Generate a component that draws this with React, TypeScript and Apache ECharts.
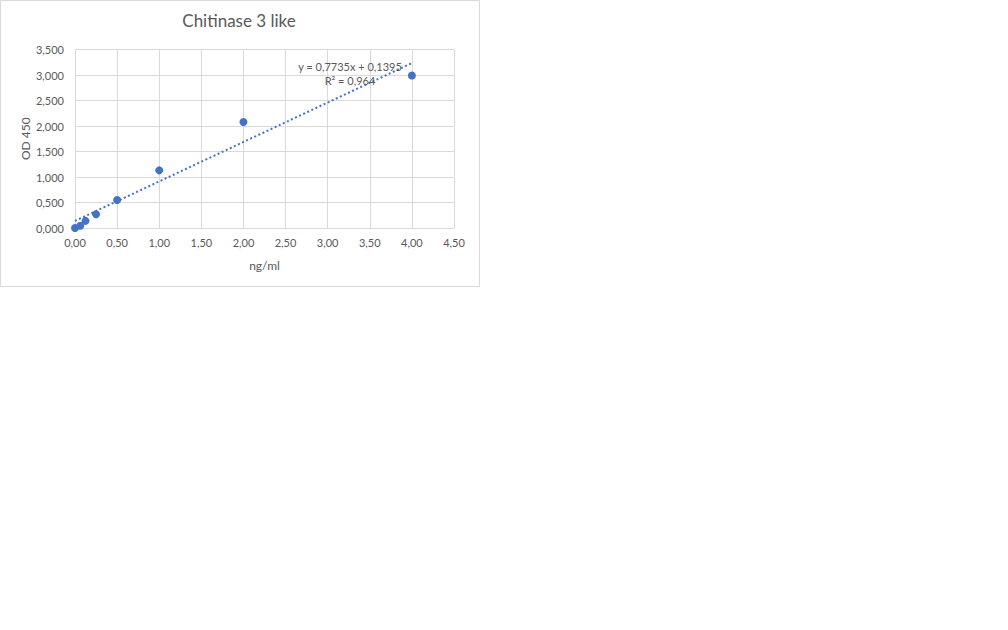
import React, { useEffect, useRef } from "react";
import * as echarts from "echarts";

const concentrations = [0, 0.0625, 0.125, 0.25, 0.5, 1, 2, 4];
const odValues = [0.0, 0.045, 0.14, 0.27, 0.55, 1.13, 2.08, 2.99];
const trendSlope = 0.7735;
const trendIntercept = 0.1395;
const trendRange = [0, 4];
const equationLines = ["y = 0,7735x + 0,1395", "R² = 0,964"];
const titleText = "Chitinase 3 like";
const xAxisName = "ng/ml";
const yAxisName = "OD 450";

const FONT = "Lato, 'Open Sans', sans-serif";
const TEXT = "#595959";
const GRID = "#d9d9d9";
const BLUE = "#4472c4";

export default function App() {
  const ref = useRef<HTMLDivElement>(null);
  useEffect(() => {
    if (!ref.current) return;
    const chart = echarts.init(ref.current, null, { renderer: "svg" });
    const trendData = trendRange.map((x) => [x, trendSlope * x + trendIntercept]);
    chart.setOption({
      animation: false,
      backgroundColor: "#ffffff",
      textStyle: { fontFamily: FONT },
      title: {
        text: titleText,
        left: 239,
        top: 12,
        padding: 0,
        textAlign: "center",
        textStyle: { fontFamily: FONT, fontSize: 17, fontWeight: "normal", color: TEXT },
      },
      grid: { left: 75, top: 49.5, right: 1008 - 454, bottom: 630 - 228, containLabel: false },
      xAxis: {
        type: "value",
        min: 0,
        max: 4.5,
        interval: 0.5,
        name: xAxisName,
        nameLocation: "middle",
        nameGap: 31,
        nameTextStyle: { fontFamily: FONT, fontSize: 12, color: TEXT, verticalAlign: "top" },
        axisLine: { show: true, lineStyle: { color: GRID } },
        axisTick: { show: false },
        axisLabel: {
          color: TEXT,
          fontFamily: FONT,
          fontSize: 11,
          margin: 9,
          formatter: (v: number) => v.toFixed(2).replace(".", ","),
        },
        splitLine: { show: true, lineStyle: { color: GRID, width: 1 } },
      },
      yAxis: {
        type: "value",
        min: 0,
        max: 3.5,
        interval: 0.5,
        name: yAxisName,
        nameLocation: "middle",
        nameGap: 44,
        nameRotate: 90,
        nameTextStyle: { fontFamily: FONT, fontSize: 12, color: TEXT },
        axisLine: { show: false },
        axisTick: { show: false },
        axisLabel: {
          color: TEXT,
          fontFamily: FONT,
          fontSize: 11,
          margin: 11,
          formatter: (v: number) => v.toFixed(3).replace(".", ","),
        },
        splitLine: { show: true, lineStyle: { color: GRID, width: 1 } },
      },
      series: [
        {
          type: "line",
          data: trendData,
          showSymbol: false,
          symbol: "none",
          lineStyle: { color: BLUE, width: 2, type: [2, 2.5] },
          silent: true,
          z: 1,
        },
        {
          type: "scatter",
          data: concentrations.map((x, i) => [x, odValues[i]]),
          symbol: "circle",
          symbolSize: 8,
          itemStyle: { color: BLUE, opacity: 1 },
          z: 2,
        },
      ],
      graphic: [
        {
          type: "rect",
          shape: { x: 0.5, y: 0.5, width: 479, height: 286 },
          style: { fill: "none", stroke: GRID, lineWidth: 1 },
          silent: true,
          z: -1,
        },
        {
          type: "text",
          x: 350,
          y: 66.5,
          style: {
            text: equationLines[0],
            fill: TEXT,
            font: `11px ${FONT}`,
            align: "center",
            verticalAlign: "middle",
          },
          z: 10,
        },
        {
          type: "text",
          x: 350,
          y: 80.5,
          style: {
            text: equationLines[1],
            fill: TEXT,
            font: `11px ${FONT}`,
            align: "center",
            verticalAlign: "middle",
          },
          z: 10,
        },
      ],
    });
    return () => chart.dispose();
  }, []);
  return (
    <div
      ref={ref}
      style={{ position: "fixed", left: 0, top: 0, width: 1008, height: 630 }}
    />
  );
}
